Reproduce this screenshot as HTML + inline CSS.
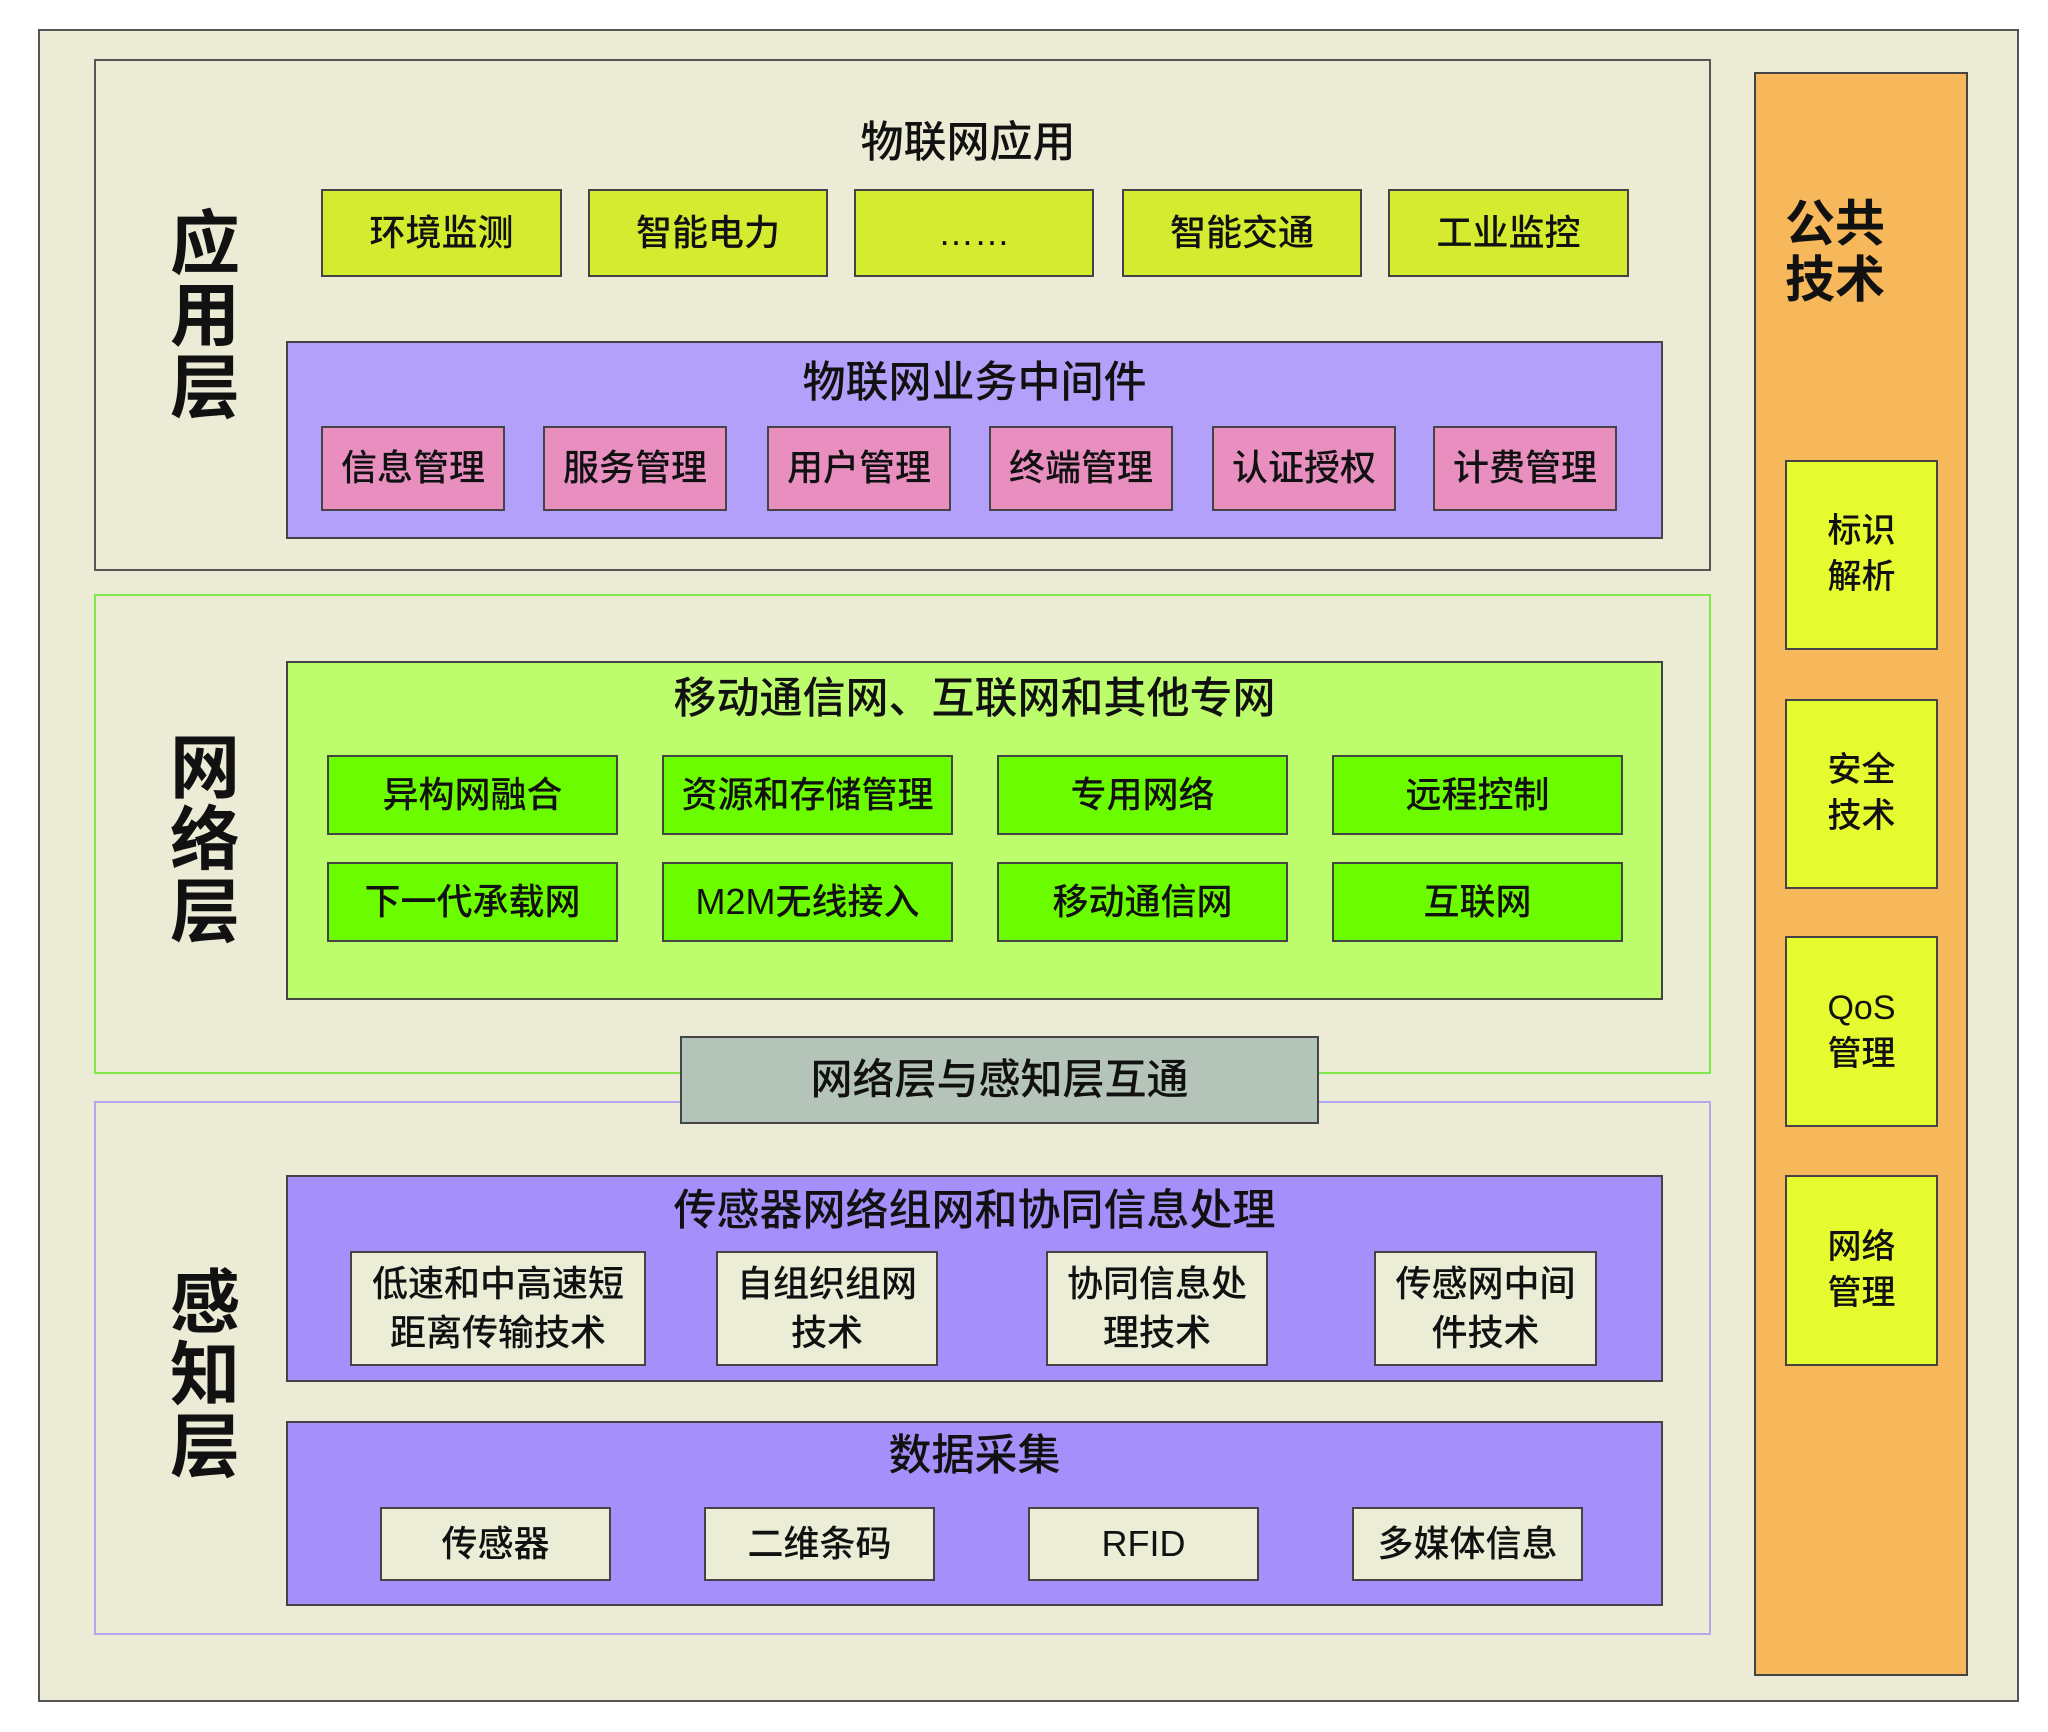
<!DOCTYPE html>
<html><head><meta charset="utf-8"><style>
*{margin:0;padding:0;box-sizing:border-box}
body{width:2048px;height:1732px;background:#fff;position:relative;overflow:hidden;font-family:"Liberation Sans","Noto Sans CJK SC",sans-serif;color:#111}
div{position:absolute}
.b{border:2px solid #444;display:flex;align-items:center;justify-content:center;text-align:center;font-size:36px;line-height:1.35;font-weight:500}
.t{text-align:center;font-size:43px;line-height:1;font-weight:500}
.lab{font-size:70px;line-height:72px;font-weight:bold;width:80px;text-align:center}
.y{background:#d4eb2f}.p{background:#e88fc0}.g{background:#6cfc00}.c{background:#ecedd6}.s{background:#e5fb2f;font-size:34px}
</style></head><body>
<div style="left:38px;top:29px;width:1981px;height:1673px;background:#ecebd6;border:2px solid #555"></div>
<div style="left:94px;top:59px;width:1617px;height:512px;border:2px solid #555"></div>
<div style="left:94px;top:594px;width:1617px;height:480px;border:2px solid #7fe84a"></div>
<div style="left:94px;top:1101px;width:1617px;height:534px;border:2px solid #b2a8f0"></div>

<div class="lab" style="left:165px;top:208px">应<br>用<br>层</div>
<div class="lab" style="left:165px;top:732px">网<br>络<br>层</div>
<div class="lab" style="left:165px;top:1267px">感<br>知<br>层</div>

<div class="t" style="left:768px;top:122px;width:400px">物联网应用</div>
<div class="b y" style="left:321px;top:189px;width:241px;height:88px">环境监测</div>
<div class="b y" style="left:588px;top:189px;width:240px;height:88px">智能电力</div>
<div class="b y" style="left:854px;top:189px;width:240px;height:88px">……</div>
<div class="b y" style="left:1122px;top:189px;width:240px;height:88px">智能交通</div>
<div class="b y" style="left:1388px;top:189px;width:241px;height:88px">工业监控</div>

<div style="left:286px;top:341px;width:1377px;height:198px;background:#b3a0fb;border:2px solid #444"></div>
<div class="t" style="left:286px;top:362px;width:1377px">物联网业务中间件</div>
<div class="b p" style="left:321px;top:426px;width:184px;height:85px">信息管理</div>
<div class="b p" style="left:543px;top:426px;width:184px;height:85px">服务管理</div>
<div class="b p" style="left:767px;top:426px;width:184px;height:85px">用户管理</div>
<div class="b p" style="left:989px;top:426px;width:184px;height:85px">终端管理</div>
<div class="b p" style="left:1212px;top:426px;width:184px;height:85px">认证授权</div>
<div class="b p" style="left:1433px;top:426px;width:184px;height:85px">计费管理</div>

<div style="left:286px;top:661px;width:1377px;height:339px;background:#bdfc6c;border:2px solid #444"></div>
<div class="t" style="left:286px;top:678px;width:1377px">移动通信网、互联网和其他专网</div>
<div class="b g" style="left:327px;top:755px;width:291px;height:80px">异构网融合</div>
<div class="b g" style="left:662px;top:755px;width:291px;height:80px">资源和存储管理</div>
<div class="b g" style="left:997px;top:755px;width:291px;height:80px">专用网络</div>
<div class="b g" style="left:1332px;top:755px;width:291px;height:80px">远程控制</div>
<div class="b g" style="left:327px;top:862px;width:291px;height:80px">下一代承载网</div>
<div class="b g" style="left:662px;top:862px;width:291px;height:80px">M2M无线接入</div>
<div class="b g" style="left:997px;top:862px;width:291px;height:80px">移动通信网</div>
<div class="b g" style="left:1332px;top:862px;width:291px;height:80px">互联网</div>

<div class="b" style="left:680px;top:1036px;width:639px;height:88px;background:#b5c4b8;font-size:42px">网络层与感知层互通</div>

<div style="left:286px;top:1175px;width:1377px;height:207px;background:#a58ffa;border:2px solid #444"></div>
<div class="t" style="left:286px;top:1190px;width:1377px">传感器网络组网和协同信息处理</div>
<div class="b c" style="left:350px;top:1251px;width:296px;height:115px">低速和中高速短<br>距离传输技术</div>
<div class="b c" style="left:716px;top:1251px;width:222px;height:115px">自组织组网<br>技术</div>
<div class="b c" style="left:1046px;top:1251px;width:222px;height:115px">协同信息处<br>理技术</div>
<div class="b c" style="left:1374px;top:1251px;width:223px;height:115px">传感网中间<br>件技术</div>

<div style="left:286px;top:1421px;width:1377px;height:185px;background:#a58ffa;border:2px solid #444"></div>
<div class="t" style="left:286px;top:1435px;width:1377px">数据采集</div>
<div class="b c" style="left:380px;top:1507px;width:231px;height:74px">传感器</div>
<div class="b c" style="left:704px;top:1507px;width:231px;height:74px">二维条码</div>
<div class="b c" style="left:1028px;top:1507px;width:231px;height:74px">RFID</div>
<div class="b c" style="left:1352px;top:1507px;width:231px;height:74px">多媒体信息</div>

<div style="left:1754px;top:72px;width:214px;height:1604px;background:#f6b85b;border:2px solid #444"></div>
<div style="left:1785px;top:196px;font-size:50px;line-height:56px;font-weight:bold">公共<br>技术</div>
<div class="b s" style="left:1785px;top:460px;width:153px;height:190px">标识<br>解析</div>
<div class="b s" style="left:1785px;top:699px;width:153px;height:190px">安全<br>技术</div>
<div class="b s" style="left:1785px;top:936px;width:153px;height:191px">QoS<br>管理</div>
<div class="b s" style="left:1785px;top:1175px;width:153px;height:191px">网络<br>管理</div>
</body></html>
